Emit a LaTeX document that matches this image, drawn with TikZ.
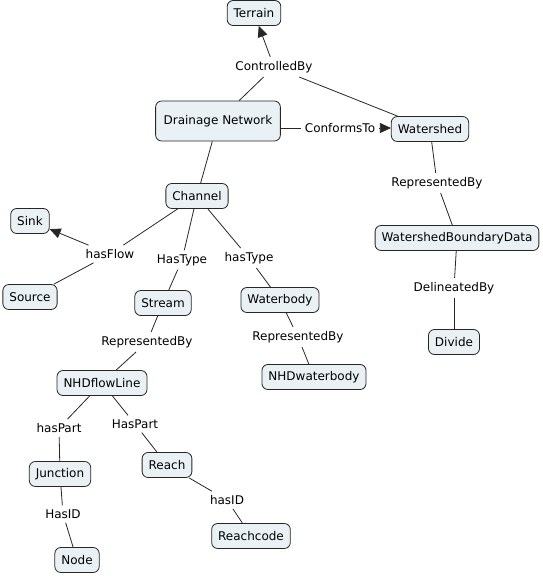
\documentclass[tikz,border=0pt]{standalone}
\usepackage{fontspec}
\setmainfont{DejaVu Sans}
\usetikzlibrary{arrows.meta}
\tikzset{
  concept/.style={draw=black!85, fill=conceptfill, rounded corners=6pt, line width=0.8pt,
    inner xsep=6.5pt, minimum height=25pt, font=\fontsize{12}{14}\selectfont},
  linkword/.style={inner sep=4pt, font=\fontsize{12}{14}\selectfont},
  link/.style={line width=0.8pt, black!85},
  linkarrow/.style={link, -{Triangle[length=11pt,width=10pt]}}
}
\begin{document}
\begin{tikzpicture}[x=1pt, y=-1pt]
		% Define colors
		\definecolor{conceptfill}{RGB}{234,241,244}
		\useasboundingbox[fill=white] (0,0) rectangle (542,576);
		% Top concepts
		\node[concept] (terrain) at (254,13) {Terrain};
		\node[concept, minimum height=40pt, inner xsep=8pt] (drainage) at (218,121) {Drainage Network};
		\node[concept] (watershed) at (430,129) {Watershed};
		\node[linkword] (controlled) at (274,67) {ControlledBy};
		\node[linkword] (conforms) at (340,128) {ConformsTo};
		\draw[link] (drainage) -- (controlled);
		\draw[link] (watershed) -- (controlled);
		\draw[linkarrow] (controlled) -- (terrain);
		\draw[link] (drainage.east |- conforms) -- (conforms);
		\draw[linkarrow] (conforms) -- (watershed.west |- conforms);
		% Watershed branch
		\node[linkword] (wsrep) at (437,183) {RepresentedBy};
		\node[concept] (wbd) at (457,238) {WatershedBoundaryData};
		\node[linkword] (delineated) at (454,288) {DelineatedBy};
		\node[concept] (divide) at (454,342) {Divide};
		\draw[link] (watershed) -- (wsrep);
		\draw[link] (wsrep) -- (wbd);
		\draw[link] (wbd) -- (delineated);
		\draw[link] (delineated) -- (divide);
		% Channel and its types
		\node[concept] (channel) at (197,196) {Channel};
		\draw[link] (drainage) -- (channel);
		\node[concept] (sink) at (30,221) {Sink};
		\node[concept] (source) at (30,297) {Source};
		\node[linkword] (flow) at (110,254) {hasFlow};
		\draw[link] (channel) -- (flow);
		\draw[link] (source) -- (flow);
		\draw[linkarrow] (flow) -- (sink);
		\node[linkword] (typea) at (182,260) {HasType};
		\node[linkword] (typeb) at (249,258) {hasType};
		\node[concept] (stream) at (163,303) {Stream};
		\node[concept] (waterbody) at (280,300) {Waterbody};
		\draw[link] (channel) -- (typea);
		\draw[link] (typea) -- (stream);
		\draw[link] (channel) -- (typeb);
		\draw[link] (typeb) -- (waterbody);
		% Waterbody representation
		\node[linkword] (wbrep) at (298,337) {RepresentedBy};
		\node[concept] (nhdwb) at (314,377) {NHDwaterbody};
		\draw[link] (waterbody) -- (wbrep);
		\draw[link] (wbrep) -- (nhdwb);
		% Stream representation
		\node[linkword] (strep) at (147,342) {RepresentedBy};
		\node[concept] (flowline) at (102,383) {NHDflowLine};
		\draw[link] (stream) -- (strep);
		\draw[link] (strep) -- (flowline);
		\node[linkword] (parta) at (59,428) {hasPart};
		\node[linkword] (partb) at (135,424) {HasPart};
		\node[concept] (junction) at (60,474) {Junction};
		\node[concept] (reach) at (167,465) {Reach};
		\draw[link] (flowline) -- (parta);
		\draw[link] (parta) -- (junction);
		\draw[link] (flowline) -- (partb);
		\draw[link] (partb) -- (reach);
		% Identifiers
		\node[linkword] (ida) at (63,514) {HasID};
		\node[linkword] (idb) at (227,500) {hasID};
		\node[concept] (nodec) at (77,560) {Node};
		\node[concept] (reachcode) at (251,536) {Reachcode};
		\draw[link] (junction) -- (ida);
		\draw[link] (ida) -- (nodec);
		\draw[link] (reach) -- (idb);
		\draw[link] (idb) -- (reachcode);
	\end{tikzpicture}
\end{document}
